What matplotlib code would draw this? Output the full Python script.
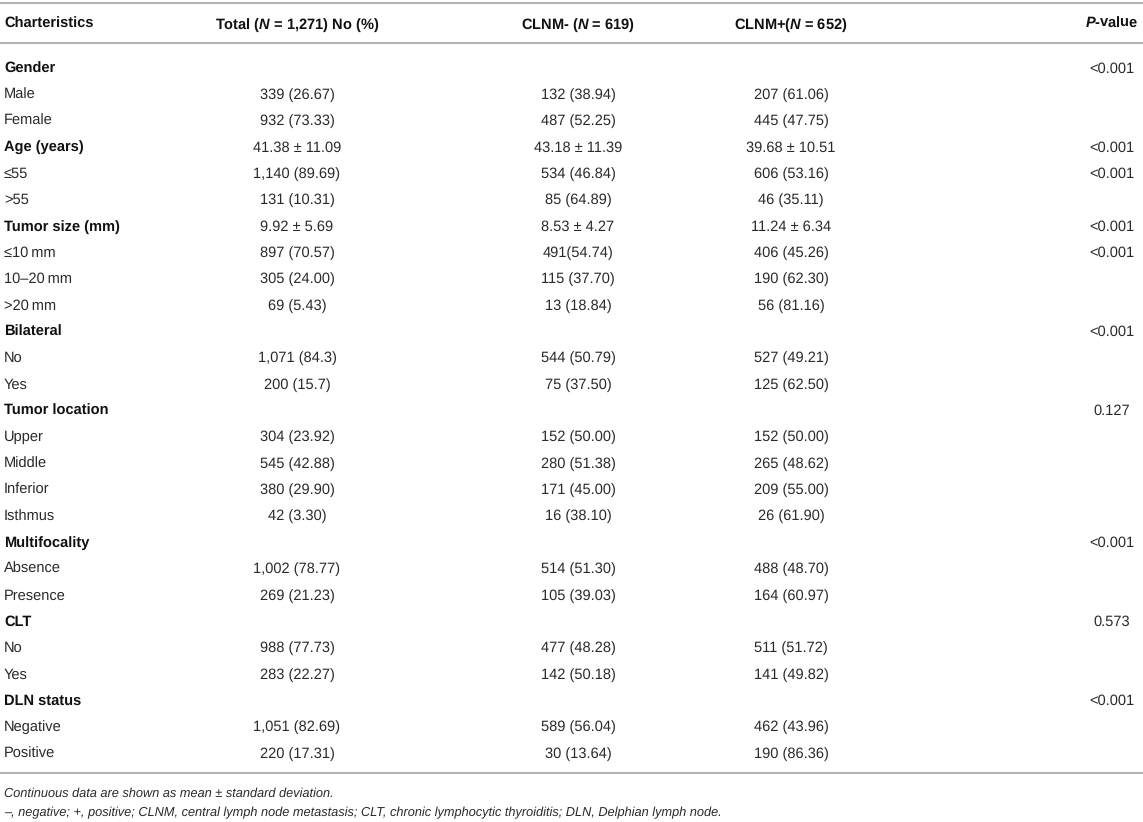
import matplotlib
matplotlib.use("Agg")
import matplotlib.pyplot as plt

plt.rcParams['font.family'] = ['Liberation Sans', 'DejaVu Sans']
plt.rcParams['mathtext.fontset'] = 'custom'
plt.rcParams['mathtext.rm'] = 'Liberation Sans'
plt.rcParams['mathtext.it'] = 'Liberation Sans:italic'
plt.rcParams['mathtext.bf'] = 'Liberation Sans:bold'
plt.rcParams['mathtext.bfit'] = 'Liberation Sans:bold:italic'
plt.rcParams['text.hinting'] = 'no_hinting'

# table content
headers = ["Charteristics", r"Total ($\mathbfit{N}$ = 1,271) No (%)",
           r"CLNM- ($\mathbfit{N}$ = 619)", r"CLNM+($\mathbfit{N}$ = 652)",
           r"$\mathbfit{P}$-value"]

labels = ["Gender", "Male", "Female",
          "Age (years)", "\u226455", ">55",
          "Tumor size (mm)", "\u226410\u2009mm", "10\u201320\u2009mm", ">20\u2009mm",
          "Bilateral", "No", "Yes",
          "Tumor location", "Upper", "Middle", "Inferior", "Isthmus",
          "Multifocality", "Absence", "Presence",
          "CLT", "No", "Yes",
          "DLN status", "Negative", "Positive"]

is_group = [True, False, False,
            True, False, False,
            True, False, False, False,
            True, False, False,
            True, False, False, False, False,
            True, False, False,
            True, False, False,
            True, False, False]

total = ["", "339 (26.67)", "932 (73.33)",
         "41.38 \u00b1 11.09", "1,140 (89.69)", "131 (10.31)",
         "9.92 \u00b1 5.69", "897 (70.57)", "305 (24.00)", "69 (5.43)",
         "", "1,071 (84.3)", "200 (15.7)",
         "", "304 (23.92)", "545 (42.88)", "380 (29.90)", "42 (3.30)",
         "", "1,002 (78.77)", "269 (21.23)",
         "", "988 (77.73)", "283 (22.27)",
         "", "1,051 (82.69)", "220 (17.31)"]

clnm_neg = ["", "132 (38.94)", "487 (52.25)",
            "43.18 \u00b1 11.39", "534 (46.84)", "85 (64.89)",
            "8.53 \u00b1 4.27", "491(54.74)", "115 (37.70)", "13 (18.84)",
            "", "544 (50.79)", "75 (37.50)",
            "", "152 (50.00)", "280 (51.38)", "171 (45.00)", "16 (38.10)",
            "", "514 (51.30)", "105 (39.03)",
            "", "477 (48.28)", "142 (50.18)",
            "", "589 (56.04)", "30 (13.64)"]

clnm_pos = ["", "207 (61.06)", "445 (47.75)",
            "39.68 \u00b1 10.51", "606 (53.16)", "46 (35.11)",
            "11.24 \u00b1 6.34", "406 (45.26)", "190 (62.30)", "56 (81.16)",
            "", "527 (49.21)", "125 (62.50)",
            "", "152 (50.00)", "265 (48.62)", "209 (55.00)", "26 (61.90)",
            "", "488 (48.70)", "164 (60.97)",
            "", "511 (51.72)", "141 (49.82)",
            "", "462 (43.96)", "190 (86.36)"]

p_values = ["<0.001", "", "",
            "<0.001", "<0.001", "",
            "<0.001", "<0.001", "", "",
            "<0.001", "", "",
            "0.127", "", "", "", "",
            "<0.001", "", "",
            "0.573", "", "",
            "<0.001", "", ""]

notes = ["Continuous data are shown as mean \u00b1 standard deviation.",
         "\u2013, negative; +, positive; CLNM, central lymph node metastasis; "
         "CLT, chronic lymphocytic thyroiditis; DLN, Delphian lymph node."]

W, H = 1143, 822
fig = plt.figure(figsize=(W / 100, H / 100), dpi=100)
ax = fig.add_axes([0, 0, 1, 1])
ax.set_xlim(0, W)
ax.set_ylim(H, 0)
ax.axis("off")

# layout (pixels)
col_x = [4, 297, 578, 791, 1112]
col_ha = ["left", "center", "center", "center", "center"]
header_y = 22
first_y = 67
row_h = 26.35
line_col = "#b4b4b4"
fs = 10.5
va = "center_baseline"

for x, ha, h in zip(col_x, col_ha, headers):
    ax.text(x, header_y, h, ha=ha, va=va, fontsize=fs,
            fontweight="bold", color="#111111")

columns = [total, clnm_neg, clnm_pos, p_values]
for i, lab in enumerate(labels):
    y = first_y + i * row_h
    ax.text(col_x[0], y, lab, ha="left", va=va, fontsize=fs,
            fontweight="bold" if is_group[i] else "normal",
            color="#111111" if is_group[i] else "#2a2a2a")
    for j, col in enumerate(columns):
        if col[i]:
            ax.text(col_x[j + 1], y, col[i], ha=col_ha[j + 1], va=va,
                    fontsize=fs, color="#2a2a2a")

last_y = first_y + (len(labels) - 1) * row_h
for ly in [3, 43, last_y + 21]:
    ax.plot([0, W], [ly, ly], color=line_col, lw=1.5, solid_capstyle="butt")

ax.text(col_x[0], last_y + 40, notes[0], ha="left", va=va,
        fontsize=9.15, style="italic", color="#2a2a2a")
ax.text(col_x[0], last_y + 59, notes[1], ha="left", va=va,
        fontsize=9.15, style="italic", color="#2a2a2a")

fig.savefig("out.png", dpi=100)
